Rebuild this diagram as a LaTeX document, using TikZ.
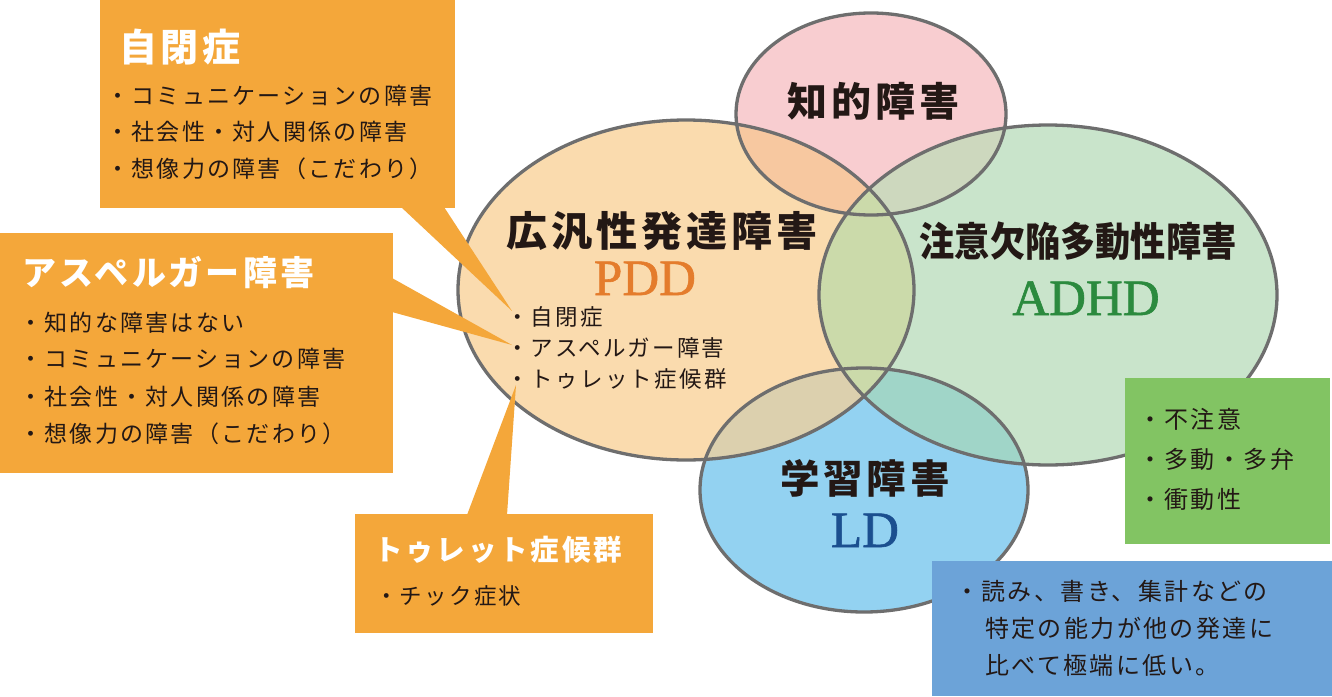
\documentclass[tikz,border=0pt]{standalone}
\usepackage{fontspec}
\newfontfamily\jp{Noto Sans CJK JP}[LetterSpace=10]
\newfontfamily\jpn{Noto Sans CJK JP}
\newfontfamily\sern{Liberation Serif}[FakeBold=1.2]
\definecolor{boxorange}{HTML}{F4A73A}
\definecolor{boxgreen}{HTML}{82C463}
\definecolor{boxblue}{HTML}{6CA3D8}
\definecolor{pddfill}{HTML}{FADBAE}
\definecolor{pinkfill}{HTML}{F8CDD0}
\definecolor{adhdfill}{HTML}{C9E4CB}
\definecolor{ldfill}{HTML}{93D2F1}
\definecolor{pddpink}{HTML}{F7C8A0}
\definecolor{pinkadhd}{HTML}{CDD8BE}
\definecolor{pddadhd}{HTML}{CBDAAA}
\definecolor{pddld}{HTML}{DCD0AE}
\definecolor{adhdld}{HTML}{A0D5C8}
\definecolor{outl}{HTML}{6E6E6E}
\definecolor{ink}{HTML}{231815}
\definecolor{pddtxt}{HTML}{E47C2C}
\definecolor{adhdtxt}{HTML}{2B8A3E}
\definecolor{ldtxt}{HTML}{1B4F8F}
\def\PDD{(686,290) ellipse [x radius=228pt, y radius=170pt]}
\def\PINK{(871,114) ellipse [x radius=135pt, y radius=101pt]}
\def\ADHD{(1048,295) ellipse [x radius=229pt, y radius=170pt]}
\def\LD{(864,490) ellipse [x radius=164pt, y radius=122pt]}
\begin{document}
\begin{tikzpicture}[x=1pt,y=-1pt,
  obox/.style={fill=boxorange, draw=none, anchor=north west, inner sep=0},
  tl/.style={inner sep=0, anchor=base west, text=ink},
  tc/.style={inner sep=0, anchor=base, text=ink},
  btitle/.style={inner sep=0, anchor=base west, text=white},
  outline/.style={draw=outl, line width=3.3pt}]
\useasboundingbox (0,0) rectangle (1332,696);
% base fills
\fill[pddfill] \PDD;
\fill[pinkfill] \PINK;
\fill[adhdfill] \ADHD;
\fill[ldfill] \LD;
% intersections
\begin{scope}\clip \PDD; \fill[pddpink] \PINK; \end{scope}
\begin{scope}\clip \PINK; \fill[pinkadhd] \ADHD; \end{scope}
\begin{scope}\clip \PDD; \fill[pddld] \LD; \end{scope}
\begin{scope}\clip \ADHD; \fill[adhdld] \LD; \end{scope}
\begin{scope}\clip \PDD; \fill[pddadhd] \ADHD; \end{scope}
% outlines
\draw[outline] \PDD;
\draw[outline] \PINK;
\draw[outline] \ADHD;
\draw[outline] \LD;
% callout anchor points
\coordinate (autdot) at (512,311);
\coordinate (aspdot) at (512,345);
\coordinate (toudot) at (516,385);
% orange boxes
\node[obox, minimum width=355pt, minimum height=208pt] (autbox) at (100,0) {};
\node[obox, minimum width=393pt, minimum height=240pt] (aspbox) at (0,233) {};
\node[obox, minimum width=298pt, minimum height=119pt] (toubox) at (355,514) {};
\fill[boxorange] (401,207) -- (444,207) -- (autdot) -- cycle;
\fill[boxorange] (392,278) -- (392,312) -- (aspdot) -- cycle;
\fill[boxorange] (467,515) -- (507,515) -- (toudot) -- cycle;
% green and blue boxes
\node[fill=boxgreen, anchor=north west, inner sep=0, minimum width=205pt, minimum height=166pt] (adhdbox) at (1125,378) {};
\node[fill=boxblue, anchor=north west, inner sep=0, minimum width=400pt, minimum height=135pt] (ldbox) at (932,561) {};
% autism box text
\node[btitle, font=\jp\bfseries\fontsize{38}{38}\selectfont] (auttitle) at (119,61) {自閉症};
\node[tl, font=\jp\fontsize{23}{23}\selectfont] (aut1) at (106,104) {・コミュニケーションの障害};
\node[tl, font=\jp\fontsize{23}{23}\selectfont] (aut2) at (106,140) {・社会性・対人関係の障害};
\node[tl, font=\jp\fontsize{23}{23}\selectfont] (aut3) at (106,177) {・想像力の障害（こだわり）};
% asperger box text
\node[btitle, font=\jp\bfseries\fontsize{34}{34}\selectfont] (asptitle) at (22,285) {アスペルガー障害};
\node[tl, font=\jp\fontsize{23}{23}\selectfont] (asp1) at (19,331) {・知的な障害はない};
\node[tl, font=\jp\fontsize{23}{23}\selectfont] (asp2) at (19,367) {・コミュニケーションの障害};
\node[tl, font=\jp\fontsize{23}{23}\selectfont] (asp3) at (19,405) {・社会性・対人関係の障害};
\node[tl, font=\jp\fontsize{23}{23}\selectfont] (asp4) at (19,442) {・想像力の障害（こだわり）};
% tourette box text
\node[btitle, font=\jp\bfseries\fontsize{28.5}{28.5}\selectfont] (toutitle) at (374,560) {トゥレット症候群};
\node[tl, font=\jp\fontsize{22.5}{22.5}\selectfont] (tou1) at (375,604) {・チック症状};
% PDD
\node[tc, font=\jp\bfseries\fontsize{41}{41}\selectfont] (pddtitle) at (662,246) {広汎性発達障害};
\node[tc, text=pddtxt, font=\sern\fontsize{51}{51}\selectfont] (pddabbr) at (645,295) {PDD};
\node[tl, font=\jp\fontsize{22.5}{22.5}\selectfont] (pdd1) at (506,325) {・自閉症};
\node[tl, font=\jp\fontsize{22.5}{22.5}\selectfont] (pdd2) at (506,356) {・アスペルガー障害};
\node[tl, font=\jp\fontsize{22.5}{22.5}\selectfont] (pdd3) at (506,387) {・トゥレット症候群};
% intellectual
\node[tc, font=\jp\bfseries\fontsize{40}{40}\selectfont] (idtitle) at (873,116) {知的障害};
% ADHD
\node[tc, xscale=0.88, font=\jpn\bfseries\fontsize{40}{40}\selectfont] (adhdtitle) at (1078,256) {注意欠陥多動性障害};
\node[tc, text=adhdtxt, font=\sern\fontsize{51}{51}\selectfont] (adhdabbr) at (1086,315) {ADHD};
\node[tl, font=\jp\fontsize{24}{24}\selectfont] (adhd1) at (1138,428) {・不注意};
\node[tl, font=\jp\fontsize{24}{24}\selectfont] (adhd2) at (1138,468) {・多動・多弁};
\node[tl, font=\jp\fontsize{24}{24}\selectfont] (adhd3) at (1138,508) {・衝動性};
% LD
\node[tc, font=\jp\bfseries\fontsize{39.5}{39.5}\selectfont] (ldtitle) at (865,493) {学習障害};
\node[tc, text=ldtxt, font=\sern\fontsize{51}{51}\selectfont] (ldabbr) at (865,547) {LD};
\node[tl, font=\jp\fontsize{24}{24}\selectfont] (ld1) at (955,600) {・読み、書き、集計などの};
\node[tl, font=\jp\fontsize{24}{24}\selectfont] (ld2) at (985,637) {特定の能力が他の発達に};
\node[tl, font=\jp\fontsize{24}{24}\selectfont] (ld3) at (985,674) {比べて極端に低い。};
\end{tikzpicture}
\end{document}
